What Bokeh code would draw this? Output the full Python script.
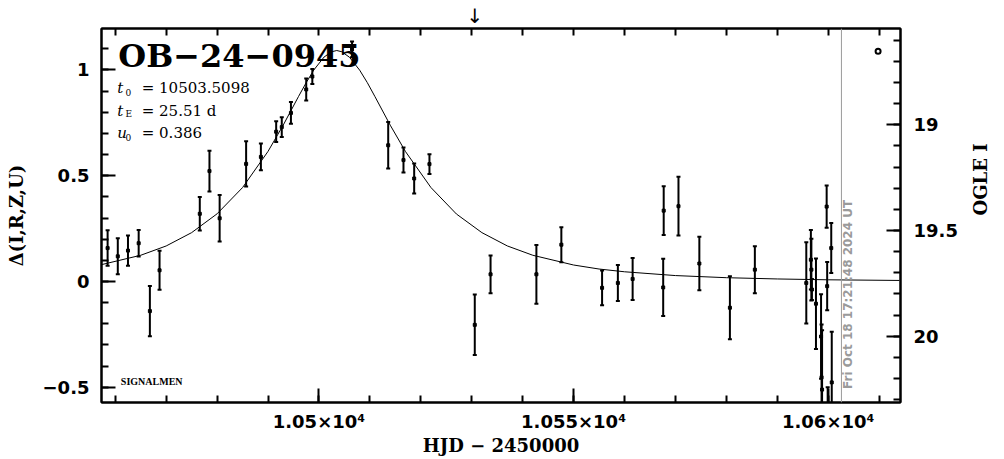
import math
from bokeh.plotting import figure
from bokeh.models import (Range1d, LinearAxis, FixedTicker, Label, Span,
                          CustomJSTickFormatter)
from bokeh.embed import file_html
from bokeh.resources import INLINE

# ---------------- data ----------------
hjd = [10458.5, 10460.5, 10462.5, 10464.6, 10466.8, 10468.7, 10476.6, 10478.5,
       10480.5, 10485.7, 10488.6, 10491.6, 10492.7, 10494.5, 10497.5, 10498.7,
       10506.5, 10513.6, 10516.6, 10518.7, 10521.7, 10530.6, 10533.7, 10542.7,
       10547.6, 10555.6, 10558.7, 10561.6, 10567.6, 10567.7, 10570.6, 10574.7,
       10580.7, 10585.6, 10595.7, 10596.6, 10596.7, 10596.8, 10597.6, 10598.6,
       10598.7, 10598.8, 10599.7, 10599.8, 10599.9, 10600.6, 10600.7]
delta = [0.158, 0.119, 0.146, 0.181, -0.140, 0.053, 0.320, 0.522,
         0.299, 0.556, 0.589, 0.708, 0.730, 0.797, 0.908, 0.969,
         1.097, 0.644, 0.574, 0.487, 0.555, -0.205, 0.034, 0.034,
         0.174, -0.030, -0.007, 0.012, -0.028, 0.335, 0.356, 0.085,
         -0.124, 0.056, -0.007, 0.103, 0.056, -0.038, -0.105, -0.260,
         -0.453, -0.511, 0.354, -0.022, -0.650, 0.158, -0.477]
err = [0.084, 0.085, 0.071, 0.063, 0.119, 0.092, 0.079, 0.096,
       0.110, 0.107, 0.063, 0.049, 0.047, 0.051, 0.052, 0.035,
       0.037, 0.110, 0.059, 0.071, 0.047, 0.143, 0.089, 0.139,
       0.083, 0.082, 0.085, 0.099, 0.135, 0.115, 0.139, 0.126,
       0.149, 0.111, 0.192, 0.141, 0.146, 0.050, 0.214, 0.200,
       0.250, 0.280, 0.100, 0.114, 0.150, 0.118, 0.240]

model_hjd = [10457, 10465, 10470, 10475, 10480, 10485, 10490, 10493, 10496,
             10497.5, 10499, 10501, 10502.5, 10503.5, 10504.5, 10506, 10508,
             10509.5, 10511, 10514, 10517, 10522, 10527, 10532, 10537, 10542,
             10550, 10555, 10560, 10570, 10580, 10590, 10600, 10614]
model_delta = [0.078, 0.124, 0.168, 0.231, 0.320, 0.444, 0.615, 0.740, 0.875,
               0.940, 1.000, 1.061, 1.086, 1.092, 1.086, 1.060, 0.999,
               0.940, 0.874, 0.739, 0.614, 0.444, 0.319, 0.231, 0.168, 0.124,
               0.078, 0.059, 0.046, 0.028, 0.018, 0.012, 0.008, 0.005]

x_major = [10500, 10550, 10600]
x_minor = [10460, 10470, 10480, 10490, 10500, 10510, 10520, 10530, 10540,
           10550, 10560, 10570, 10580, 10590, 10600, 10610]
x_labels = {10500: "1.05×10⁴", 10550: "1.055×10⁴", 10600: "1.06×10⁴"}
y_major = [-0.5, 0, 0.5, 1]
y_minor = [-0.5, -0.4, -0.3, -0.2, -0.1, 0, 0.1, 0.2, 0.3, 0.4, 0.5,
           0.6, 0.7, 0.8, 0.9, 1.0, 1.1]
y_labels = {-0.5: "−0.5", 0: "0", 0.5: "0.5", 1: "1"}
mag_major = [19, 19.5, 20]
mag_minor = [18.6, 18.7, 18.8, 18.9, 19.0, 19.1, 19.2, 19.3, 19.4, 19.5,
             19.6, 19.7, 19.8, 19.9, 20.0, 20.1, 20.2, 20.3]
mag_labels = {19: "19", 19.5: "19.5", 20: "20"}
base_mag = 19.741

event = "OB−24−0945"
t0_text = "= 10503.5098"
te_text = "= 25.51 d"
u0_text = "= 0.386"
stamp = "Fri Oct 18 17:21:48 2024 UT"
stamp_hjd = 10602.6
arrow_hjd = 10530.6

x_lo, x_hi = 10457.3, 10614.2
y_lo, y_hi = -0.572, 1.196

TICK_FONT = "DejaVu Sans"
LAB_FONT = "DejaVu Serif"

p = figure(width=1004, height=459, x_range=Range1d(x_lo, x_hi),
           y_range=Range1d(y_lo, y_hi), output_backend="svg",
           toolbar_location=None, title=None, min_border_left=101,
           min_border_right=103, min_border_top=25, min_border_bottom=57)
p.background_fill_color = "white"
p.border_fill_color = "white"
p.outline_line_color = "black"
p.outline_line_width = 2
p.xgrid.visible = False
p.ygrid.visible = False

p.extra_y_ranges = {"mag": Range1d(start=base_mag - y_lo, end=base_mag - y_hi)}


def style(ax, label_size="18px"):
    ax.axis_line_width = 2
    ax.axis_line_color = "black"
    ax.major_tick_in = 14
    ax.major_tick_out = 0
    ax.minor_tick_in = 7
    ax.minor_tick_out = 0
    ax.major_tick_line_width = 2
    ax.minor_tick_line_width = 2
    ax.major_label_text_font = TICK_FONT
    ax.major_label_text_font_style = "bold"
    ax.major_label_text_font_size = label_size
    ax.major_label_text_color = "black"
    ax.axis_label_text_font = LAB_FONT
    ax.axis_label_text_font_style = "bold"
    ax.axis_label_text_font_size = "18px"
    ax.axis_label_text_color = "black"


xa = p.below[0]
xa.ticker = FixedTicker(ticks=x_major, minor_ticks=x_minor)
xa.major_label_overrides = x_labels
xa.axis_label = "HJD − 2450000"
style(xa)
xa.major_label_standoff = 8
xa.axis_label_standoff = 0

ya = p.left[0]
ya.ticker = FixedTicker(ticks=y_major, minor_ticks=y_minor)
ya.major_label_overrides = y_labels
ya.axis_label = "Δ(I,R,Z,U)"
style(ya)
ya.major_label_standoff = 12
ya.axis_label_standoff = 13

ra = LinearAxis(y_range_name="mag", axis_label="OGLE I",
                ticker=FixedTicker(ticks=mag_major, minor_ticks=mag_minor))
ra.major_label_overrides = mag_labels
style(ra)
ra.major_label_standoff = 13
ra.axis_label_standoff = 20
if "axis_label_orientation" in ra.properties():
    try:
        ra.axis_label_orientation = math.pi / 2
    except Exception:
        pass
p.add_layout(ra, "right")

# top axis: minor ticks only, plus the arrow mark as its single label
ta = LinearAxis(ticker=FixedTicker(ticks=[arrow_hjd], minor_ticks=x_minor),
                formatter=CustomJSTickFormatter(code="return '↓'"))
style(ta)
ta.major_tick_in = 0
ta.major_label_text_font_style = "normal"
ta.major_label_text_font_size = "20px"
ta.major_label_standoff = 1
p.add_layout(ta, "above")

# model curve
p.line(model_hjd, model_delta, line_color="black", line_width=1)

# error bars and points
lower = [d - e for d, e in zip(delta, err)]
upper = [d + e for d, e in zip(delta, err)]
p.segment(x0=hjd, y0=lower, x1=hjd, y1=upper, line_color="black", line_width=2)
p.scatter(hjd, lower, marker="dash", size=4, line_color="black", line_width=2)
p.scatter(hjd, upper, marker="dash", size=4, line_color="black", line_width=2)
p.scatter(hjd, delta, marker="square", size=3, color="black")

# date stamp line and text
p.add_layout(Span(location=stamp_hjd, dimension="height", line_color="#9a9a9a",
                  line_width=1))
p.add_layout(Label(x=stamp_hjd + 1.3, y=-0.508, text=stamp, angle=1.5708,
                   text_font=TICK_FONT, text_font_style="bold",
                   text_font_size="12px", text_color="#9a9a9a",
                   text_align="left", text_baseline="middle"))

# small open symbol top right
p.scatter([10609.8], [1.089], marker="circle", size=5, line_color="black",
          line_width=2, fill_color="white")

# title and parameters
p.add_layout(Label(x=10460.6, y=1.064, text=event, text_font=LAB_FONT,
                   text_font_style="bold", text_font_size="32px",
                   text_color="black", text_baseline="middle"))
rows = [(0.913, "t", "0", t0_text), (0.808, "t", "E", te_text),
        (0.701, "u", "0", u0_text)]
for yb, sym, sub, txt in rows:
    p.add_layout(Label(x=10460.4, y=yb, text=sym,
                       text_font=LAB_FONT, text_font_style="italic",
                       text_font_size="15px", text_color="black",
                       text_baseline="middle"))
    p.add_layout(Label(x=10462.0, y=yb - 0.018, text=sub, text_font=LAB_FONT,
                       text_font_size="9px", text_color="black",
                       text_baseline="middle"))
    p.add_layout(Label(x=10465.2, y=yb, text=txt, text_font=LAB_FONT,
                       text_font_size="15px", text_color="black",
                       text_baseline="middle"))

p.add_layout(Label(x=10461.1, y=-0.475, text="SIGNALMEN", text_font="Liberation Serif",
                   text_font_style="bold", text_font_size="10px",
                   text_color="black", text_baseline="middle"))

open("out.html", "w").write(file_html(p, INLINE))
